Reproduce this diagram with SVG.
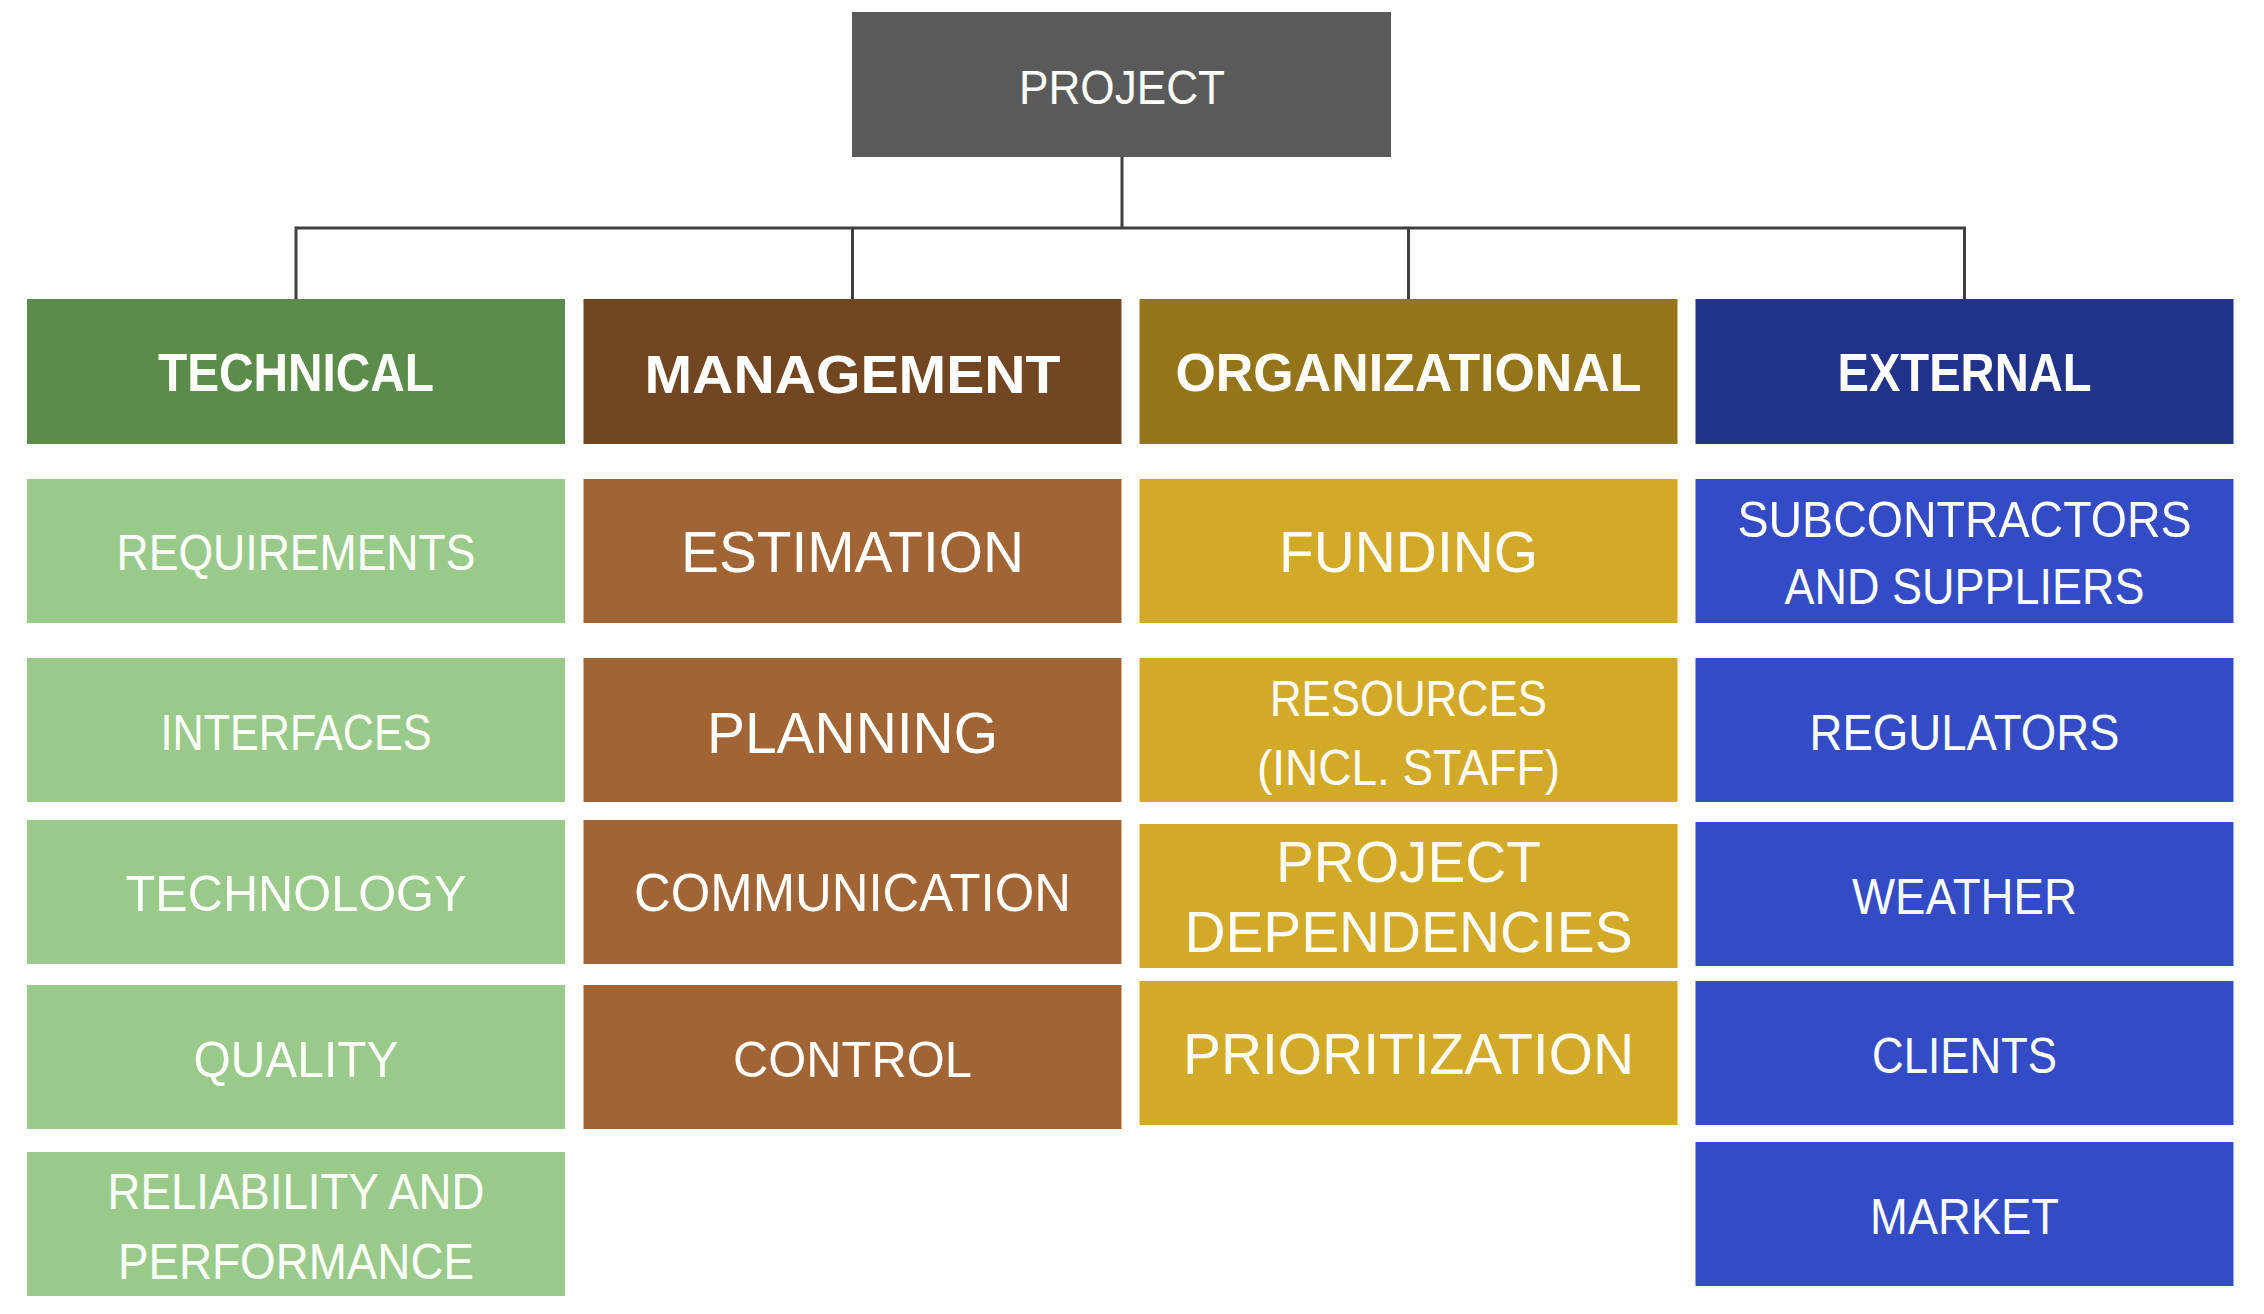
<svg xmlns="http://www.w3.org/2000/svg" width="2264" height="1314" viewBox="0 0 2264 1314">
<style>
text{font-family:"Liberation Sans",Arial,sans-serif;fill:#ffffff;text-anchor:middle}
.hd{font-weight:bold;font-size:54px}
.f{font-size:50px}
.a{font-size:58px}
.conn{fill:none;stroke:#404040;stroke-width:3}
.root{fill:#5a5a5a}
.c1{fill:#5b8c4a}.c2{fill:#734622}.c3{fill:#94751a}.c4{fill:#21328a}
.s1{fill:#9aca8a}.s2{fill:#a16435}.s3{fill:#d3aa28}.s4{fill:#334bc5}
</style>
<rect width="2264" height="1314" fill="#ffffff"/>
<g id="connectors">
<path class="conn" d="M1122 157V228M296 299V228H1964.5V299M852.5 228V299M1408.5 228V299"/>
</g>
<g id="project"><rect class="root" x="852" y="12" width="539" height="145"/><text x="1122" y="104" font-size="48" textLength="206" lengthAdjust="spacingAndGlyphs">PROJECT</text></g>

<g id="technical"><rect class="c1" x="27" y="299" width="538" height="145"/><text class="hd" x="296" y="391" textLength="276" lengthAdjust="spacingAndGlyphs">TECHNICAL</text></g>
<g id="management"><rect class="c2" x="583.5" y="299" width="538" height="145"/><text class="hd" x="852.5" y="393" font-size="58" textLength="416" lengthAdjust="spacingAndGlyphs">MANAGEMENT</text></g>
<g id="organizational"><rect class="c3" x="1139.5" y="299" width="538" height="145"/><text class="hd" x="1408.5" y="391" textLength="466" lengthAdjust="spacingAndGlyphs">ORGANIZATIONAL</text></g>
<g id="external"><rect class="c4" x="1695.5" y="299" width="538" height="145"/><text class="hd" x="1964.5" y="391" textLength="254" lengthAdjust="spacingAndGlyphs">EXTERNAL</text></g>

<g id="requirements"><rect class="s1" x="27" y="479" width="538" height="144"/><text class="f" x="296" y="570" textLength="359" lengthAdjust="spacingAndGlyphs">REQUIREMENTS</text></g>
<g id="interfaces"><rect class="s1" x="27" y="658" width="538" height="144"/><text class="f" x="296" y="750" textLength="271" lengthAdjust="spacingAndGlyphs">INTERFACES</text></g>
<g id="technology"><rect class="s1" x="27" y="820" width="538" height="144"/><text class="f" x="296" y="911" textLength="341" lengthAdjust="spacingAndGlyphs">TECHNOLOGY</text></g>
<g id="quality"><rect class="s1" x="27" y="985" width="538" height="144"/><text class="f" x="296" y="1077" textLength="205" lengthAdjust="spacingAndGlyphs">QUALITY</text></g>
<g id="reliability"><rect class="s1" x="27" y="1152" width="538" height="144"/><text class="f" x="296" y="1209" textLength="377" lengthAdjust="spacingAndGlyphs">RELIABILITY AND</text><text class="f" x="296" y="1279" textLength="356" lengthAdjust="spacingAndGlyphs">PERFORMANCE</text></g>

<g id="estimation"><rect class="s2" x="583.5" y="479" width="538" height="144"/><text class="a" x="852.5" y="572" textLength="343" lengthAdjust="spacingAndGlyphs">ESTIMATION</text></g>
<g id="planning"><rect class="s2" x="583.5" y="658" width="538" height="144"/><text class="a" x="852.5" y="753" textLength="291" lengthAdjust="spacingAndGlyphs">PLANNING</text></g>
<g id="communication"><rect class="s2" x="583.5" y="820" width="538" height="144"/><text x="852.5" y="911" font-size="54" textLength="437" lengthAdjust="spacingAndGlyphs">COMMUNICATION</text></g>
<g id="control"><rect class="s2" x="583.5" y="985" width="538" height="144"/><text class="f" x="852.5" y="1077" textLength="239" lengthAdjust="spacingAndGlyphs">CONTROL</text></g>

<g id="funding"><rect class="s3" x="1139.5" y="479" width="538" height="144"/><text class="a" x="1408.5" y="572" textLength="259" lengthAdjust="spacingAndGlyphs">FUNDING</text></g>
<g id="resources"><rect class="s3" x="1139.5" y="658" width="538" height="144"/><text class="f" x="1408.5" y="716" textLength="277" lengthAdjust="spacingAndGlyphs">RESOURCES</text><text class="f" x="1408.5" y="785" textLength="303" lengthAdjust="spacingAndGlyphs">(INCL. STAFF)</text></g>
<g id="dependencies"><rect class="s3" x="1139.5" y="824" width="538" height="144"/><text class="a" x="1408.5" y="882" textLength="265" lengthAdjust="spacingAndGlyphs">PROJECT</text><text class="a" x="1408.5" y="952" textLength="448" lengthAdjust="spacingAndGlyphs">DEPENDENCIES</text></g>
<g id="prioritization"><rect class="s3" x="1139.5" y="981" width="538" height="144"/><text class="a" x="1408.5" y="1074" textLength="451" lengthAdjust="spacingAndGlyphs">PRIORITIZATION</text></g>

<g id="subcontractors"><rect class="s4" x="1695.5" y="479" width="538" height="144"/><text class="f" x="1964.5" y="537" textLength="454" lengthAdjust="spacingAndGlyphs">SUBCONTRACTORS</text><text class="f" x="1964.5" y="604" textLength="360" lengthAdjust="spacingAndGlyphs">AND SUPPLIERS</text></g>
<g id="regulators"><rect class="s4" x="1695.5" y="658" width="538" height="144"/><text class="f" x="1964.5" y="750" textLength="310" lengthAdjust="spacingAndGlyphs">REGULATORS</text></g>
<g id="weather"><rect class="s4" x="1695.5" y="822" width="538" height="144"/><text class="f" x="1964.5" y="914" textLength="225" lengthAdjust="spacingAndGlyphs">WEATHER</text></g>
<g id="clients"><rect class="s4" x="1695.5" y="981" width="538" height="144"/><text class="f" x="1964.5" y="1073" textLength="185" lengthAdjust="spacingAndGlyphs">CLIENTS</text></g>
<g id="market"><rect class="s4" x="1695.5" y="1142" width="538" height="144"/><text class="f" x="1964.5" y="1234" textLength="189" lengthAdjust="spacingAndGlyphs">MARKET</text></g>
</svg>
